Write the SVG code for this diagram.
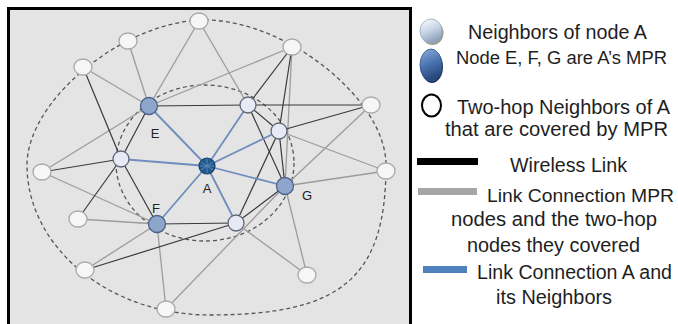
<svg xmlns="http://www.w3.org/2000/svg" width="678" height="324" viewBox="0 0 678 324">
  <defs>
    <style>
      .ring { fill: none; stroke: #555; stroke-width: 1.3; stroke-dasharray: 4 3; }
      .blue { stroke: #6f8dbd; stroke-width: 1.8; fill: none; }
      .blk { stroke: #3a3a3a; stroke-width: 1.2; fill: none; }
      .gry { stroke: #9c9c9c; stroke-width: 1.3; fill: none; }
      .hop2 { fill: #f6f6f6; stroke: #a9a9a9; stroke-width: 1.3; }
      .nbr { fill: #e7eaf4; stroke: #5d6577; stroke-width: 1.3; }
      .mpr { fill: #8ea6cb; stroke: #4c6288; stroke-width: 1.3; }
      .lbl { font-family: "Liberation Sans", Arial, sans-serif; font-size: 13px; fill: #222; text-anchor: middle; }
      .leg { font-family: "Liberation Sans", Arial, sans-serif; font-size: 20px; fill: #1e1e1e; }
    </style>
    <linearGradient id="gNbr" x1="0" y1="0" x2="0.4" y2="1">
      <stop offset="0" stop-color="#ffffff"/>
      <stop offset="0.55" stop-color="#c9d5e6"/>
      <stop offset="1" stop-color="#8fa3c0"/>
    </linearGradient>
    <linearGradient id="gMpr" x1="0" y1="0" x2="0.3" y2="1">
      <stop offset="0" stop-color="#8eaedb"/>
      <stop offset="0.5" stop-color="#4f78b6"/>
      <stop offset="1" stop-color="#27497c"/>
    </linearGradient>
  </defs>

  <!-- panel -->
  <rect x="8.5" y="8.5" width="402" height="318" fill="#e4e4e4" stroke="#000" stroke-width="3"/>

  <!-- coverage rings -->
  <g id="rings">
    <path class="ring" d="M205,20 C286.5,20 386,99.75 386,165 C386,277.5 342,315 210,315 C109.4,315 27,247.5 27,165 C27,99.75 124.9,20 205,20 Z"/>
    <ellipse class="ring" cx="205" cy="163" rx="89" ry="78"/>
  </g>

  <!-- links -->
  <g id="connectors">
    <!-- two-hop coverage links -->
    <line class="gry" x1="149" y1="106" x2="199" y2="21"/>
    <line class="gry" x1="149" y1="106" x2="128" y2="41"/>
    <line class="gry" x1="149" y1="106" x2="83" y2="67"/>
    <line class="gry" x1="149" y1="106" x2="292" y2="47"/>
    <line class="gry" x1="149" y1="106" x2="42" y2="172"/>
    <line class="gry" x1="157" y1="224" x2="42" y2="172"/>
    <line class="gry" x1="157" y1="224" x2="78" y2="219"/>
    <line class="gry" x1="157" y1="224" x2="85" y2="270"/>
    <line class="gry" x1="157" y1="224" x2="166" y2="309"/>
    <line class="gry" x1="285" y1="186" x2="292" y2="47"/>
    <line class="gry" x1="285" y1="186" x2="371" y2="105"/>
    <line class="gry" x1="285" y1="186" x2="386" y2="171"/>
    <line class="gry" x1="285" y1="186" x2="166" y2="309"/>
    <line class="gry" x1="285" y1="186" x2="307" y2="275"/>
    <line class="gry" x1="199" y1="21" x2="248" y2="105"/>
    <line class="gry" x1="279" y1="131" x2="386" y2="171"/>
    <line class="gry" x1="236" y1="223" x2="307" y2="275"/>
    <!-- wireless links -->
    <line class="blk" x1="149" y1="106" x2="248" y2="105"/>
    <line class="blk" x1="149" y1="106" x2="121" y2="159"/>
    <line class="blk" x1="121" y1="159" x2="83" y2="67"/>
    <line class="blk" x1="121" y1="159" x2="42" y2="172"/>
    <line class="blk" x1="121" y1="159" x2="78" y2="219"/>
    <line class="blk" x1="121" y1="159" x2="157" y2="224"/>
    <line class="blk" x1="157" y1="224" x2="236" y2="223"/>
    <line class="blk" x1="85" y1="270" x2="236" y2="223"/>
    <line class="blk" x1="248" y1="105" x2="292" y2="47"/>
    <line class="blk" x1="279" y1="131" x2="292" y2="47"/>
    <line class="blk" x1="248" y1="105" x2="279" y2="131"/>
    <line class="blk" x1="248" y1="105" x2="285" y2="186"/>
    <line class="blk" x1="279" y1="131" x2="285" y2="186"/>
    <line class="blk" x1="279" y1="131" x2="236" y2="223"/>
    <line class="blk" x1="236" y1="223" x2="285" y2="186"/>
    <line class="blk" x1="279" y1="131" x2="371" y2="105"/>
    <line class="blk" x1="248" y1="105" x2="371" y2="105"/>
    <!-- links from A to its neighbors -->
    <line class="blue" x1="207" y1="166" x2="149" y2="106"/>
    <line class="blue" x1="207" y1="166" x2="157" y2="224"/>
    <line class="blue" x1="207" y1="166" x2="285" y2="186"/>
    <line class="blue" x1="207" y1="166" x2="121" y2="159"/>
    <line class="blue" x1="207" y1="166" x2="248" y2="105"/>
    <line class="blue" x1="207" y1="166" x2="279" y2="131"/>
    <line class="blue" x1="207" y1="166" x2="236" y2="223"/>
  </g>

  <!-- two-hop neighbors -->
  <g id="T1"><ellipse class="hop2" cx="199" cy="21" rx="9" ry="8"/></g>
  <g id="T2"><ellipse class="hop2" cx="128" cy="41" rx="9" ry="8"/></g>
  <g id="T3"><ellipse class="hop2" cx="83" cy="67" rx="9" ry="8"/></g>
  <g id="T4"><ellipse class="hop2" cx="292" cy="47" rx="9" ry="8"/></g>
  <g id="T5"><ellipse class="hop2" cx="371" cy="105" rx="9" ry="8"/></g>
  <g id="T6"><ellipse class="hop2" cx="42" cy="172" rx="9" ry="8"/></g>
  <g id="T7"><ellipse class="hop2" cx="78" cy="219" rx="9" ry="8"/></g>
  <g id="T8"><ellipse class="hop2" cx="386" cy="171" rx="9" ry="8"/></g>
  <g id="T9"><ellipse class="hop2" cx="85" cy="270" rx="9" ry="8"/></g>
  <g id="T10"><ellipse class="hop2" cx="166" cy="309" rx="9" ry="8"/></g>
  <g id="T11"><ellipse class="hop2" cx="307" cy="275" rx="9" ry="8"/></g>

  <!-- one-hop neighbors -->
  <g id="N1"><circle class="nbr" cx="121" cy="159" r="8"/></g>
  <g id="N2"><circle class="nbr" cx="248" cy="105" r="8"/></g>
  <g id="N3"><circle class="nbr" cx="279" cy="131" r="8"/></g>
  <g id="N4"><circle class="nbr" cx="236" cy="223" r="8"/></g>

  <!-- MPR nodes -->
  <g id="E"><circle class="mpr" cx="149" cy="106" r="8.5"/><text class="lbl" x="155" y="138">E</text></g>
  <g id="F"><circle class="mpr" cx="157" cy="224" r="8.5"/><text class="lbl" x="156" y="213">F</text></g>
  <g id="G"><circle class="mpr" cx="285" cy="186" r="8.5"/><text class="lbl" x="307" y="200">G</text></g>

  <!-- node A -->
  <g id="A">
    <circle cx="207" cy="166" r="8" fill="#24598c" stroke="#1b416a" stroke-width="1.2"/>
    <path d="M201,162 L213,170 M201,170 L213,162 M207,159 L207,173 M200,166 L214,166" stroke="#5f8dbd" stroke-width="0.9" fill="none"/>
    <text class="lbl" x="207" y="193">A</text>
  </g>

  <!-- legend -->
  <g id="legend">
    <ellipse cx="432.5" cy="33" rx="11" ry="12" fill="#9a9a9a"/>
    <ellipse cx="431" cy="31" rx="11" ry="12" fill="url(#gNbr)" stroke="#9aa6b8" stroke-width="0.8"/>
    <text class="leg" x="468" y="39" textLength="179" lengthAdjust="spacingAndGlyphs">Neighbors of node A</text>

    <ellipse cx="432" cy="67" rx="11" ry="16" fill="#1f3a63"/>
    <ellipse cx="431" cy="65" rx="11" ry="16" fill="url(#gMpr)" stroke="#2f5286" stroke-width="0.8"/>
    <text class="leg" x="456" y="64" style="font-size:18px" textLength="211" lengthAdjust="spacingAndGlyphs">Node E, F, G are A’s MPR</text>

    <ellipse cx="431.5" cy="105.5" rx="9.5" ry="11" fill="#fff" stroke="#000" stroke-width="2"/>
    <text class="leg" x="457" y="114" textLength="213" lengthAdjust="spacingAndGlyphs">Two-hop Neighbors of A</text>
    <text class="leg" x="445" y="136" textLength="223" lengthAdjust="spacingAndGlyphs">that are covered by MPR</text>

    <rect x="417" y="158" width="61" height="7" fill="#000"/>
    <text class="leg" x="510" y="172" textLength="117" lengthAdjust="spacingAndGlyphs">Wireless Link</text>

    <rect x="418" y="188" width="59" height="7" fill="#a6a6a6"/>
    <text class="leg" x="487" y="202" style="font-size:19px" textLength="187" lengthAdjust="spacingAndGlyphs">Link Connection MPR</text>
    <text class="leg" x="451" y="226" textLength="206" lengthAdjust="spacingAndGlyphs">nodes and the two-hop</text>
    <text class="leg" x="467" y="252" textLength="173" lengthAdjust="spacingAndGlyphs">nodes they covered</text>

    <rect x="423" y="266" width="44" height="7" fill="#4f81bd"/>
    <text class="leg" x="477" y="279" textLength="195" lengthAdjust="spacingAndGlyphs">Link Connection A and</text>
    <text class="leg" x="496" y="304" textLength="116" lengthAdjust="spacingAndGlyphs">its Neighbors</text>
  </g>
</svg>
